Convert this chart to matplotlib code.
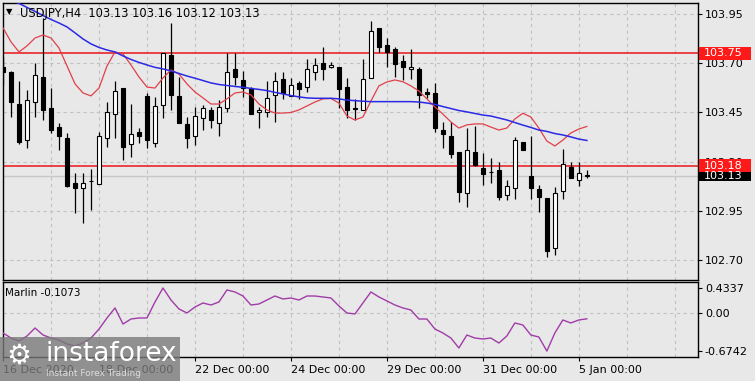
import matplotlib
matplotlib.use("Agg")
import matplotlib.pyplot as plt
import matplotlib.transforms as mtrans
from matplotlib.patches import Rectangle
import numpy as np

# USDJPY H4 candles
opens = [103.683, 103.657, 103.493, 103.310, 103.505, 103.632, 103.474, 103.376, 103.322, 103.092,
         103.065, 103.104, 103.087, 103.319, 103.442, 103.573, 103.290, 103.353, 103.534, 103.297,
         103.488, 103.742, 103.534, 103.392, 103.331, 103.421, 103.463, 103.398, 103.471, 103.669,
         103.615, 103.573, 103.454, 103.454, 103.539, 103.619, 103.534, 103.601, 103.578, 103.657,
         103.703, 103.679, 103.683, 103.578, 103.471, 103.463, 103.624, 103.877, 103.793, 103.771,
         103.713, 103.669, 103.669, 103.556, 103.551, 103.361, 103.331, 103.251, 103.040, 103.251,
         103.167, 103.150, 103.158, 103.031, 103.065, 103.302, 103.128, 103.060, 103.014, 102.761,
         103.053, 103.175, 103.107, 103.130]
highs = [103.733, 103.662, 103.611, 103.564, 103.701, 103.930, 103.573, 103.397, 103.347, 103.143,
         103.143, 103.163, 103.353, 103.505, 103.611, 103.573, 103.493, 103.371, 103.547, 103.527,
         103.754, 103.906, 103.632, 103.429, 103.479, 103.488, 103.479, 103.513, 103.750, 103.750,
         103.662, 103.581, 103.479, 103.611, 103.657, 103.657, 103.624, 103.611, 103.720, 103.725,
         103.784, 103.708, 103.683, 103.624, 103.517, 103.720, 103.916, 103.880, 103.828, 103.784,
         103.742, 103.771, 103.679, 103.573, 103.598, 103.403, 103.403, 103.251, 103.370, 103.381,
         103.243, 103.218, 103.200, 103.107, 103.327, 103.302, 103.331, 103.082, 103.014, 103.070,
         103.263, 103.200, 103.200, 103.160]
lows = [103.590, 103.429, 103.290, 103.270, 103.429, 103.412, 103.347, 103.260, 103.073, 102.940,
        102.889, 102.955, 103.087, 103.276, 103.319, 103.209, 103.226, 103.294, 103.268, 103.276,
        103.421, 103.463, 103.398, 103.268, 103.285, 103.361, 103.370, 103.331, 103.454, 103.590,
        103.530, 103.442, 103.370, 103.429, 103.403, 103.517, 103.534, 103.517, 103.556, 103.615,
        103.615, 103.674, 103.471, 103.421, 103.412, 103.463, 103.624, 103.759, 103.683, 103.632,
        103.615, 103.619, 103.471, 103.522, 103.353, 103.268, 103.218, 102.997, 102.972, 103.176,
        103.082, 103.091, 103.006, 103.006, 103.010, 103.260, 103.010, 102.946, 102.718, 102.727,
        103.010, 103.116, 103.077, 103.120]
closes = [103.657, 103.505, 103.302, 103.513, 103.640, 103.463, 103.361, 103.331, 103.077, 103.067,
          103.094, 103.100, 103.331, 103.454, 103.561, 103.276, 103.341, 103.331, 103.310, 103.483,
          103.750, 103.539, 103.398, 103.319, 103.432, 103.471, 103.412, 103.479, 103.657, 103.629,
          103.573, 103.442, 103.463, 103.522, 103.611, 103.551, 103.590, 103.568, 103.669, 103.691,
          103.669, 103.691, 103.568, 103.463, 103.468, 103.619, 103.865, 103.781, 103.759, 103.696,
          103.679, 103.679, 103.539, 103.544, 103.370, 103.341, 103.239, 103.049, 103.260, 103.184,
          103.139, 103.148, 103.020, 103.077, 103.310, 103.260, 103.065, 103.020, 102.748, 103.043,
          103.189, 103.116, 103.141, 103.130]

# fast (red) and slow (blue) moving averages
ma_fast = [103.879, 103.808, 103.757, 103.788, 103.828, 103.843, 103.828, 103.777, 103.686, 103.595,
           103.549, 103.534, 103.574, 103.686, 103.757, 103.747, 103.691, 103.630, 103.579, 103.574,
           103.625, 103.666, 103.645, 103.595, 103.554, 103.524, 103.493, 103.493, 103.519, 103.549,
           103.554, 103.539, 103.493, 103.463, 103.447, 103.447, 103.450, 103.463, 103.483, 103.503,
           103.519, 103.521, 103.498, 103.432, 103.412, 103.427, 103.508, 103.585, 103.605, 103.615,
           103.606, 103.585, 103.559, 103.519, 103.478, 103.442, 103.402, 103.371, 103.387, 103.392,
           103.392, 103.376, 103.361, 103.371, 103.417, 103.446, 103.427, 103.371, 103.305, 103.280,
           103.310, 103.346, 103.366, 103.379]
ma_slow = [104.041, 104.021, 104.003, 103.983, 103.963, 103.942, 103.922, 103.904, 103.884, 103.854,
           103.823, 103.798, 103.780, 103.767, 103.757, 103.737, 103.719, 103.704, 103.691, 103.679,
           103.671, 103.661, 103.648, 103.635, 103.624, 103.612, 103.600, 103.592, 103.587, 103.582,
           103.578, 103.572, 103.567, 103.561, 103.552, 103.544, 103.536, 103.529, 103.524, 103.522,
           103.522, 103.522, 103.519, 103.513, 103.510, 103.507, 103.505, 103.505, 103.505, 103.505,
           103.505, 103.505, 103.503, 103.498, 103.491, 103.480, 103.470, 103.460, 103.453, 103.445,
           103.437, 103.432, 103.422, 103.412, 103.399, 103.386, 103.374, 103.361, 103.354, 103.343,
           103.336, 103.326, 103.315, 103.308]

marlin = [-0.357, -0.445, -0.497, -0.409, -0.269, -0.392, -0.445, -0.480, -0.550, -0.585,
          -0.533, -0.445, -0.288, -0.093, 0.083, -0.199, -0.111, -0.093, -0.093, 0.188,
          0.4337, 0.223, 0.065, -0.005, 0.100, 0.170, 0.135, 0.188, 0.399, 0.364,
          0.293, 0.135, 0.153, 0.223, 0.293, 0.241, 0.258, 0.223, 0.293, 0.293,
          0.276, 0.258, 0.118, -0.005, -0.023, 0.170, 0.364, 0.276, 0.206, 0.135,
          0.083, 0.047, -0.111, -0.111, -0.286, -0.357, -0.445, -0.620, -0.392, -0.445,
          -0.462, -0.445, -0.533, -0.409, -0.181, -0.216, -0.392, -0.427, -0.6742, -0.357,
          -0.128, -0.181, -0.128, -0.1073]

levels = [103.75, 103.18]
last_price = 103.13
price_ticks = [103.95, 103.70, 103.45, 103.20, 102.95, 102.70]
date_pos = [0, 12, 24, 36, 48, 60, 72]
date_labels = ["16 Dec 2020", "18 Dec 00:00", "22 Dec 00:00", "24 Dec 00:00",
               "29 Dec 00:00", "31 Dec 00:00", "5 Jan 00:00"]

bg = "#e8e8e8"
grid_c = "#c2c2c2"
plt.rcParams['font.family'] = ['DejaVu Sans']

fig = plt.figure(figsize=(7.55, 3.81), dpi=100, facecolor=bg)
ax = fig.add_axes([0.0036, 0.2651, 0.9209, 0.7278], facecolor=bg)
ax2 = fig.add_axes([0.0036, 0.0638, 0.9209, 0.1953], facecolor=bg, sharex=ax)

x = np.arange(len(opens))
o = np.array(opens); c = np.array(closes)
h = np.array(highs); l = np.array(lows)

for a in (ax, ax2):
    for k in range(6, 87, 6):
        a.axvline(k, color=grid_c, lw=0.8, ls=(0, (3, 3)), zorder=0)
for p in price_ticks:
    ax.axhline(p, color=grid_c, lw=0.8, ls=(0, (3, 3)), zorder=0)
ax2.axhline(0, color=grid_c, lw=0.8, ls=(0, (3, 3)), zorder=0)

# bid line and levels
ax.axhline(last_price, color="#c8c8c8", lw=1.0, zorder=1)
for lv in levels:
    ax.axhline(lv, color="#e8262a", lw=1.2, zorder=1)

# candles
ax.vlines(x, l, h, color="black", lw=0.9, zorder=3)
bottom = np.minimum(o, c)
height = np.maximum(np.abs(c - o), 0.002)
face = np.where(c >= o, "white", "black")
ax.bar(x, height, bottom=bottom, width=0.56, color=face, edgecolor="black", lw=0.8, zorder=4)

ax.plot(x, ma_fast, color="#e0404a", lw=0.9, zorder=5)
ax.plot(x, ma_slow, color="#2a2ae6", lw=1.1, zorder=5)

ax.set_xlim(-0.04, 86.9)
ax.set_ylim(102.600, 104.007)
ax.yaxis.tick_right()
ax.set_yticks(price_ticks)
ax.set_yticklabels([f"{p:.2f}" for p in price_ticks])
ax.tick_params(axis='y', length=3, width=0.8, labelsize=8, pad=2, colors="black")
ax.tick_params(axis='x', bottom=False, labelbottom=False)

# price boxes at the right
tr = mtrans.blended_transform_factory(ax.transAxes, ax.transData)
box_w = 52 / 694.3
for val, col in [(last_price, "black"), (levels[1], "#ff1a1a"), (levels[0], "#ff1a1a")]:
    hh = 0.068 if col != "black" else 0.058
    ax.add_patch(Rectangle((1.002, val - hh / 2), box_w, hh, transform=tr, facecolor=col,
                           edgecolor="none", clip_on=False, zorder=10))
    ax.text(1.008, val, f"{val:.2f}", transform=tr, color="white", fontsize=8,
            va="center", ha="left", clip_on=False, zorder=11)

# header
fig.text(20 / 755, 1 - 13 / 381, "USDJPY,H4  103.13 103.16 103.12 103.13", fontsize=8.3,
         va="center", ha="left", color="black")
fig.text(6 / 755, 1 - 12 / 381, "\u25bc", fontsize=6, va="center", ha="left", color="black")

# Marlin panel
ax2.plot(x, marlin, color="#a03ca8", lw=1.0, zorder=3)
ax2.set_ylim(-0.773, 0.534)
ax2.yaxis.tick_right()
ax2.set_yticks([0.4337, 0.0, -0.6742])
ax2.set_yticklabels(["0.4337", "0.00", "-0.6742"])
ax2.tick_params(axis='y', length=3, width=0.8, labelsize=8, pad=2)
ax2.set_xticks(date_pos)
ax2.set_xticklabels(date_labels, ha="left")
ax2.tick_params(axis='x', length=3, width=0.8, labelsize=8, pad=3)
ax2.text(0.004, 0.86, "Marlin -0.1073", transform=ax2.transAxes, fontsize=7.5,
         va="center", ha="left")

for a in (ax, ax2):
    for s in a.spines.values():
        s.set_color("black")
        s.set_linewidth(1.0)

# watermark
fig.patches.append(Rectangle((0, 0), 180 / 755, 44 / 381, transform=fig.transFigure,
                             facecolor="#7a7a7a", alpha=0.8, edgecolor="none", zorder=20))
fig.text(6 / 755, 1 - 356 / 381, "\u2699", fontsize=20, color="white", va="center",
         ha="left", zorder=21)
fig.text(45 / 755, 1 - 354 / 381, "instaforex", fontsize=19, color="white", va="center",
         ha="left", zorder=21)
fig.text(46 / 755, 1 - 373 / 381, "Instant Forex Trading", fontsize=6.5, color="#dcdcdc",
         va="center", ha="left", zorder=21)

fig.savefig("out.png", dpi=100, facecolor=bg)
